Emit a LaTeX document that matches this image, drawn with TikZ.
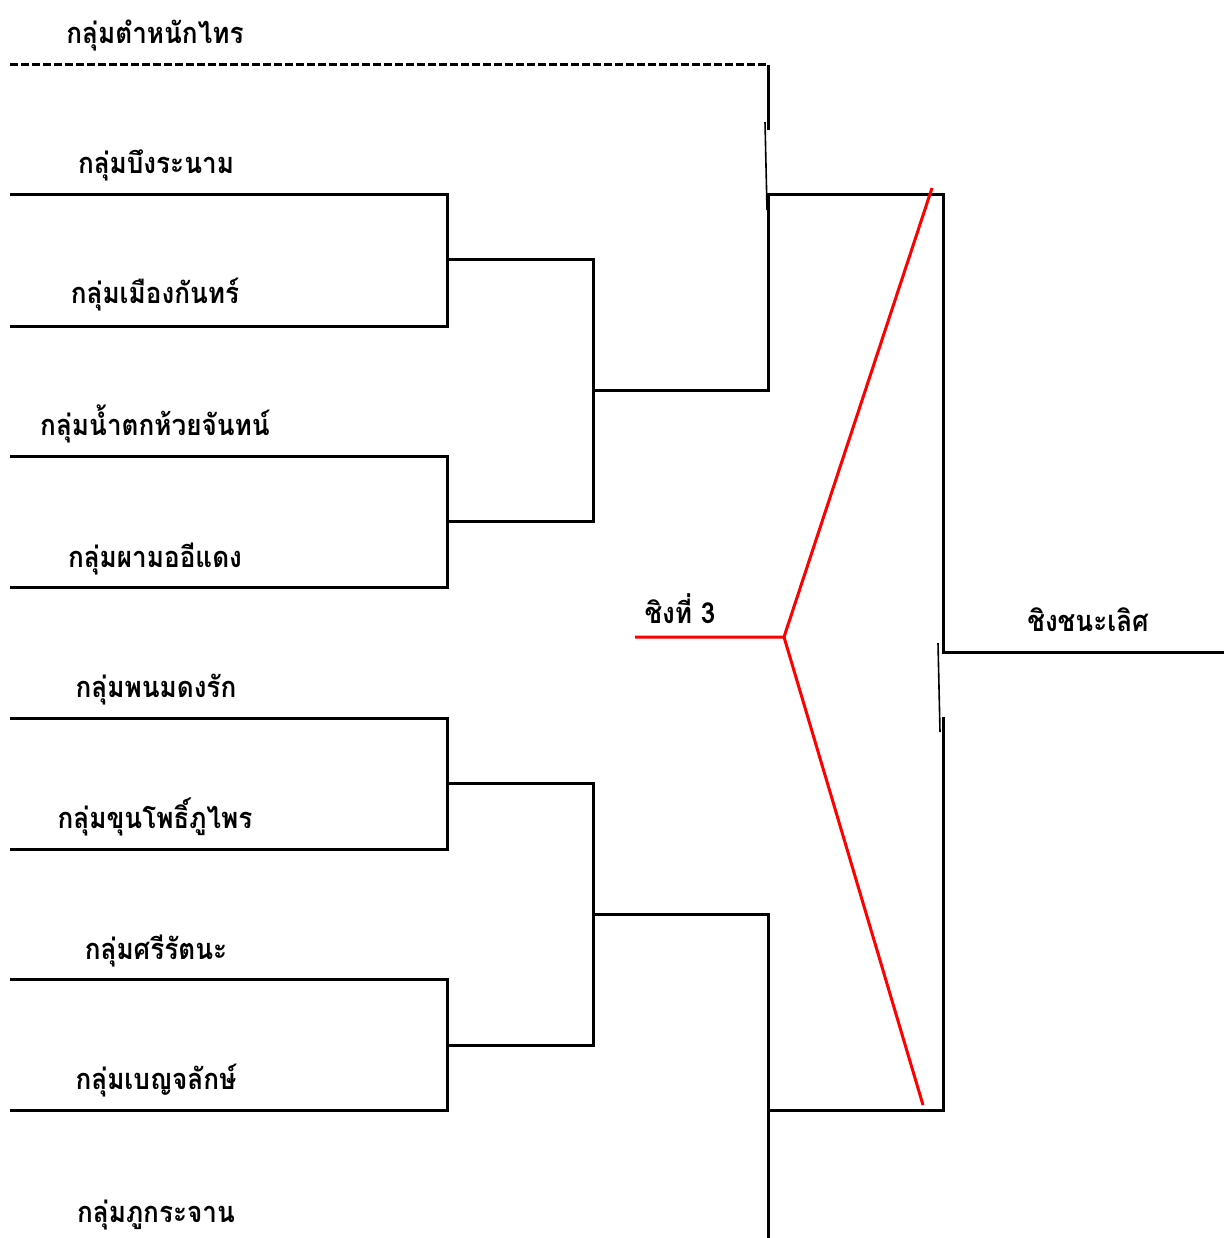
\documentclass[tikz,border=0pt]{standalone}
\usepackage{fontspec}
\newfontfamily\thaifont[Script=Thai,FakeStretch=0.9]{Loma}
\tikzset{
  lbl/.style={font=\thaifont\fontsize{29}{32}\selectfont\bfseries, anchor=base, inner sep=0pt},
  br/.style={line width=3pt, black},
  thin/.style={line width=1.6pt, black},
  redl/.style={line width=3pt, red},
}
\begin{document}
\begin{tikzpicture}[x=1pt,y=-1pt]
\useasboundingbox (0,0) rectangle (1224,1238);
% labels
\node[lbl] (t1) at (155,44) {กลุ่มตำหนักไทร};
\node[lbl] (t2) at (156,174) {กลุ่มบึงระนาม};
\node[lbl] (t3) at (155,304) {กลุ่มเมืองกันทร์};
\node[lbl] (t4) at (155,435) {กลุ่มน้ำตกห้วยจันทน์};
\node[lbl] (t5) at (155,567) {กลุ่มผามออีแดง};
\node[lbl] (t6) at (156,697) {กลุ่มพนมดงรัก};
\node[lbl] (t7) at (155,828) {กลุ่มขุนโพธิ์ภูไพร};
\node[lbl] (t8) at (156,959) {กลุ่มศรีรัตนะ};
\node[lbl] (t9) at (156,1089) {กลุ่มเบญจลักษ์};
\node[lbl] (t10) at (156,1222) {กลุ่มภูกระจาน};
\node[lbl] (third) at (680,623) {ชิงที่ 3};
\node[lbl] (final) at (1088,631) {ชิงชนะเลิศ};
% coordinates
\coordinate (d0) at (10,65);
\coordinate (d1) at (768,65);
\coordinate (d2) at (768,130);
\coordinate (s1a) at (765,122);
\coordinate (s1b) at (767,210);
\foreach \n/\y in {a/195,b/326,c/456,d/587,e/718,f/849,g/979,h/1110}{
  \coordinate (L\n) at (10,\y);
  \coordinate (R\n) at (447,\y);
}
\coordinate (m1) at (447,260);
\coordinate (m1r) at (593,260);
\coordinate (m2) at (447,521);
\coordinate (m2r) at (593,521);
\coordinate (m3) at (447,783);
\coordinate (m3r) at (593,783);
\coordinate (m4) at (447,1045);
\coordinate (m4r) at (593,1045);
\coordinate (q1) at (593,390);
\coordinate (q1r) at (768,390);
\coordinate (q2) at (593,914);
\coordinate (q2r) at (768,914);
\coordinate (sfa) at (768,195);
\coordinate (sfar) at (943,195);
\coordinate (sfb) at (768,1110);
\coordinate (sfbr) at (943,1110);
\coordinate (bottom) at (768,1238);
\coordinate (fa) at (943,652);
\coordinate (fr) at (1224,652);
\coordinate (fb) at (943,717);
\coordinate (s2a) at (938,643);
\coordinate (s2b) at (940,732);
\coordinate (r0) at (635,637);
\coordinate (r1) at (784,637);
\coordinate (r2) at (932,188);
\coordinate (r3) at (923,1105);
% dashed top line
\draw[br, dash pattern=on 8pt off 3pt] (d0) -- (d1);
\draw[br] (d1) -- (d2);
\draw[thin] (s1a) -- (s1b);
% first round
\draw[br] (La) -- (Ra) -- (Rb) -- (Lb);
\draw[br] (Lc) -- (Rc) -- (Rd) -- (Ld);
\draw[br] (Le) -- (Re) -- (Rf) -- (Lf);
\draw[br] (Lg) -- (Rg) -- (Rh) -- (Lh);
% second round
\draw[br] (m1) -- (m1r) -- (m2r) -- (m2);
\draw[br] (m3) -- (m3r) -- (m4r) -- (m4);
\draw[br] (q1) -- (q1r) -- (sfa) -- (sfar) -- (fa) -- (fr);
\draw[br] (q2) -- (q2r) -- (bottom);
\draw[br] (sfb) -- (sfbr) -- (fb);
\draw[thin] (s2a) -- (s2b);
% red third place
\draw[redl] (r0) -- (r1) -- (r2);
\draw[redl] (r1) -- (r3);
\end{tikzpicture}
\end{document}
